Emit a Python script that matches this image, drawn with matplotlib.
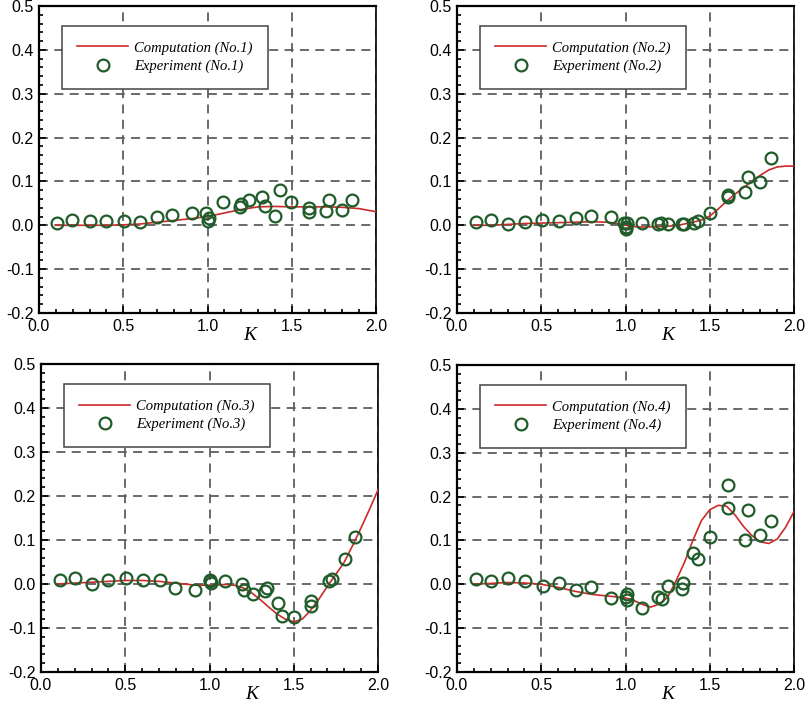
import matplotlib
matplotlib.use("Agg")
import matplotlib.pyplot as plt
from matplotlib.ticker import MultipleLocator

plt.rcParams['axes.unicode_minus'] = False
plt.rcParams['font.family'] = 'Liberation Sans'

# experiment points
exp_k_1 = [0.105, 0.196, 0.30, 0.398, 0.505, 0.60, 0.70, 0.792, 0.91, 0.994, 1.0, 1.006,
           1.09, 1.19, 1.198, 1.247, 1.325, 1.339, 1.428, 1.402, 1.497, 1.604, 1.604,
           1.703, 1.721, 1.798, 1.857]
exp_v_1 = [0.005, 0.012, 0.010, 0.009, 0.010, 0.008, 0.020, 0.023, 0.027, 0.029, 0.010, 0.016,
           0.052, 0.042, 0.048, 0.058, 0.065, 0.043, 0.080, 0.021, 0.053, 0.031, 0.039,
           0.033, 0.058, 0.035, 0.057]

exp_k_2 = [0.111, 0.202, 0.30, 0.402, 0.507, 0.606, 0.705, 0.794, 0.911, 0.99, 1.0, 1.002,
           1.006, 1.097, 1.194, 1.208, 1.25, 1.333, 1.347, 1.406, 1.432, 1.50, 1.606, 1.61,
           1.707, 1.725, 1.80, 1.863]
exp_v_2 = [0.008, 0.013, 0.002, 0.008, 0.013, 0.009, 0.017, 0.021, 0.020, 0.006, -0.009, -0.003,
           0.006, 0.005, 0.002, 0.005, 0.002, 0.002, 0.004, 0.006, 0.010, 0.027, 0.065, 0.070,
           0.076, 0.111, 0.098, 0.153]

exp_k_3 = [0.111, 0.204, 0.30, 0.40, 0.506, 0.603, 0.704, 0.795, 0.916, 1.0, 1.005, 1.009,
           1.094, 1.195, 1.203, 1.256, 1.329, 1.341, 1.405, 1.431, 1.50, 1.604, 1.604,
           1.709, 1.725, 1.806, 1.865]
exp_v_3 = [0.009, 0.014, 0.001, 0.010, 0.013, 0.009, 0.008, -0.008, -0.013, 0.010, 0.006, 0.002,
           0.006, 0.0, -0.014, -0.022, -0.017, -0.009, -0.044, -0.072, -0.074, -0.038, -0.049,
           0.006, 0.011, 0.057, 0.106]

exp_k_4 = [0.111, 0.202, 0.303, 0.402, 0.509, 0.606, 0.705, 0.794, 0.913, 1.0, 1.006, 1.006,
           1.095, 1.194, 1.214, 1.25, 1.333, 1.343, 1.402, 1.432, 1.50, 1.606, 1.61,
           1.707, 1.725, 1.80, 1.863]
exp_v_4 = [0.011, 0.007, 0.014, 0.008, -0.005, 0.002, -0.014, -0.007, -0.031, -0.030, -0.036, -0.022,
           -0.055, -0.030, -0.033, -0.005, -0.011, 0.002, 0.072, 0.057, 0.108, 0.227, 0.175,
           0.102, 0.170, 0.112, 0.144]

# computed curves
comp_k_1 = [0.1, 0.2, 0.3, 0.4, 0.5, 0.6, 0.7, 0.8, 0.9, 1.0, 1.1, 1.2, 1.3, 1.4, 1.5,
            1.6, 1.7, 1.8, 1.9, 2.0]
comp_v_1 = [0.0, 0.0, 0.0, 0.0, 0.001, 0.003, 0.007, 0.011, 0.015, 0.020, 0.028, 0.036, 0.042,
            0.043, 0.042, 0.042, 0.042, 0.041, 0.038, 0.031]

comp_k_2 = [0.1, 0.2, 0.3, 0.4, 0.5, 0.6, 0.7, 0.8, 0.9, 0.95, 1.0, 1.05, 1.1, 1.2, 1.3, 1.4,
            1.45, 1.5, 1.55, 1.6, 1.65, 1.7, 1.75, 1.8, 1.85, 1.9, 1.95, 2.0]
comp_v_2 = [0.0, 0.0, 0.002, 0.004, 0.005, 0.006, 0.007, 0.008, 0.007, 0.004, 0.0, -0.003,
            -0.004, -0.003, -0.001, 0.007, 0.012, 0.021, 0.037, 0.055, 0.071, 0.086, 0.100,
            0.114, 0.126, 0.133, 0.135, 0.135]

comp_k_3 = [0.1, 0.2, 0.3, 0.4, 0.5, 0.6, 0.7, 0.8, 0.9, 1.0, 1.05, 1.1, 1.15, 1.2, 1.25, 1.3,
            1.35, 1.4, 1.45, 1.5, 1.55, 1.6, 1.65, 1.7, 1.75, 1.8, 1.85, 1.9, 1.95, 2.0]
comp_v_3 = [0.0, 0.002, 0.004, 0.006, 0.008, 0.008, 0.006, 0.002, -0.002, -0.003, -0.002,
            -0.001, -0.003, -0.009, -0.020, -0.035, -0.052, -0.068, -0.080, -0.086, -0.080,
            -0.060, -0.034, -0.005, 0.022, 0.050, 0.088, 0.128, 0.170, 0.214]

comp_k_4 = [0.1, 0.2, 0.3, 0.4, 0.5, 0.6, 0.7, 0.8, 0.9, 1.0, 1.05, 1.1, 1.15, 1.2, 1.25, 1.3,
            1.35, 1.4, 1.45, 1.5, 1.55, 1.6, 1.65, 1.7, 1.75, 1.8, 1.85, 1.9, 1.95, 2.0]
comp_v_4 = [0.0, 0.002, 0.004, 0.003, 0.0, -0.007, -0.016, -0.023, -0.027, -0.031, -0.037,
            -0.046, -0.052, -0.045, -0.030, 0.008, 0.050, 0.100, 0.145, 0.170, 0.180, 0.178,
            0.158, 0.132, 0.111, 0.097, 0.093, 0.103, 0.130, 0.166]

cases = ["No.1", "No.2", "No.3", "No.4"]
exp_k = [exp_k_1, exp_k_2, exp_k_3, exp_k_4]
exp_v = [exp_v_1, exp_v_2, exp_v_3, exp_v_4]
comp_k = [comp_k_1, comp_k_2, comp_k_3, comp_k_4]
comp_v = [comp_v_1, comp_v_2, comp_v_3, comp_v_4]

W, H = 806, 708
# axes boxes in pixels: left, top, right, bottom
boxes = [(39, 6, 376, 313), (457, 6, 794, 313),
         (41, 364, 378, 672), (457, 365, 794, 672)]

fig = plt.figure(figsize=(W / 100, H / 100), dpi=100)

red = "#cc2a2a"
green = "#1f5c2a"

for i in range(4):
    l, t, r, b = boxes[i]
    ax = fig.add_axes([l / W, 1 - b / H, (r - l) / W, (b - t) / H])

    ax.plot(comp_k[i], comp_v[i], color=red, lw=1.2,
            label=f"Computation ({cases[i]})", zorder=3)
    ax.plot(exp_k[i], exp_v[i], 'o', ms=8.5, mfc='none', mec=green, mew=1.6,
            label=f"Experiment ({cases[i]})", zorder=4)

    ax.set_xlim(0, 2.0)
    ax.set_ylim(-0.2, 0.5)
    ax.xaxis.set_major_locator(MultipleLocator(0.5))
    ax.xaxis.set_minor_locator(MultipleLocator(0.1))
    ax.yaxis.set_major_locator(MultipleLocator(0.1))
    ax.yaxis.set_minor_locator(MultipleLocator(0.02))
    ax.xaxis.set_major_formatter(lambda v, p: f"{v:.1f}")
    ax.yaxis.set_major_formatter(lambda v, p: f"{v:.1f}")
    ax.tick_params(which='both', direction='in', top=False, right=False,
                   labelsize=11.5, width=1.2, colors='black')
    ax.tick_params(which='major', length=5, pad=4)
    ax.tick_params(which='minor', length=3)

    ax.grid(True, which='major', color='#5e5e5e', ls=(0, (5, 3.5)), lw=1.3, zorder=1)
    for side in ['left', 'bottom', 'top']:
        ax.spines[side].set_linewidth(1.6)
    ax.spines['right'].set_linewidth(1.2)

    ax.text(0.625, -0.072, "K", transform=ax.transAxes, ha='center', va='center',
            family='Liberation Serif', style='italic', fontsize=14)

    leg = ax.legend(loc='upper left', bbox_to_anchor=(0.068, 0.935), borderaxespad=0,
                    prop={'family': 'Liberation Serif', 'style': 'italic', 'size': 10.5},
                    handlelength=3.5, handletextpad=0.4, borderpad=1.05,
                    labelspacing=0.35, fancybox=False, framealpha=1)
    leg.get_frame().set_edgecolor('#444444')
    leg.get_frame().set_linewidth(1.1)

fig.savefig("out.png", dpi=100)
